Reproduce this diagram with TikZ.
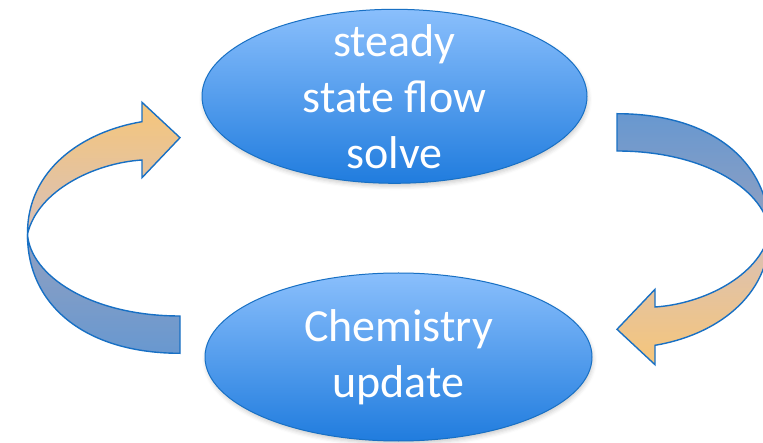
\documentclass[tikz,border=0pt]{standalone}
\usepackage{fontspec}
\setmainfont{Carlito}
\usetikzlibrary{shapes.geometric,shadows.blur}
\definecolor{ovaltop}{RGB}{138,191,252}
\definecolor{ovalbot}{RGB}{32,124,222}
\definecolor{edgeblue}{RGB}{24,112,196}
\definecolor{ribbonor}{RGB}{246,198,122}
\definecolor{ribbonpk}{RGB}{216,192,184}
\definecolor{ribbongr}{RGB}{146,160,192}
\definecolor{ribbonbl}{RGB}{104,152,208}
\tikzset{
  stage/.style={ellipse, draw=edgeblue, line width=1pt, top color=ovaltop, bottom color=ovalbot,
    text=white, font=\fontsize{46}{56}\selectfont, align=center,
    inner xsep=0pt, inner ysep=-20pt, minimum width=385pt, minimum height=174pt,
    blur shadow={shadow xshift=1pt, shadow yshift=-3pt, shadow opacity=20, shadow blur radius=4pt}},
  band/.style 2 args={draw=edgeblue, line width=1.4pt, line join=miter, top color=#1, bottom color=#2},
}
% one curled arrow, tail at the bottom, head at the top
% #1,#2: shading of the tail band, #3,#4: shading of the head band
\newcommand{\ribbon}[4]{%
  \path[band={#1}{#2}] (27.5,234) .. controls (30,275) and (90,316) .. (180,316)
    -- (180,353.3) .. controls (85,353.3) and (27,305) .. (27.5,234) -- cycle;
  \path[band={#3}{#4}] (27.5,234) .. controls (27,170) and (82,131.7) .. (142,121.7)
    -- (142,102.3) -- (180,137.7) -- (142,177.7) -- (142,160)
    .. controls (95,163) and (38,190) .. (27.5,234) -- cycle;
}

\begin{document}
\begin{tikzpicture}[x=1pt,y=-1pt]
  \useasboundingbox (0,0) rectangle (763,443);

  \ribbon{ribbongr}{ribbonbl}{ribbonor}{ribbonpk}
  \begin{scope}[rotate around={180:(398.5,233.5)}]
    \ribbon{ribbonbl}{ribbongr}{ribbonpk}{ribbonor}
  \end{scope}

  \node[stage] (flow) at (394.5,96.3) {steady\\state flow\\solve};
  \node[stage, minimum width=387pt, minimum height=168pt] (chem) at (398.5,357) {Chemistry\\update};
\end{tikzpicture}
\end{document}
